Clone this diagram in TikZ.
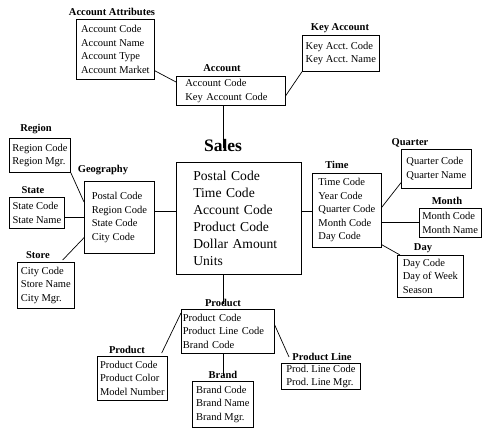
\documentclass[tikz,border=0pt]{standalone}
\usepackage{fontspec}
\setmainfont{Liberation Serif}
\begin{document}
\frenchspacing
\begin{tikzpicture}[x=1pt,y=-1pt,
  box/.style={draw,line width=0.7pt,align=left,anchor=north west,inner xsep=3pt,inner ysep=1pt,
    font=\fontsize{10.5}{13.5}\selectfont\frenchspacing},
  ttl/.style={font=\fontsize{10.5}{12}\selectfont\bfseries,inner sep=1pt,anchor=center},
  con/.style={line width=0.7pt}]
\useasboundingbox[fill=white] (0,0) rectangle (491,435);
\node[box,minimum width=78pt,minimum height=60pt] (attr) at (76,19) {Account Code\\Account Name\\Account Type\\Account Market};
\node[ttl] (attrT) at (112,12) {Account Attributes};
\node[box,inner xsep=9pt,text width=91pt,minimum width=109pt,minimum height=29pt] (acct) at (176,76) {Account Code\\Key Account Code};
\node[ttl] (acctT) at (222,68) {Account};
\node[box,minimum width=77pt,minimum height=36pt] (key) at (302,35) {Key Acct. Code\\Key Acct. Name};
\node[ttl] (keyT) at (340,28) {Key Account};
\node[box,inner xsep=17pt,text width=91pt,minimum width=125pt,minimum height=112pt,font=\fontsize{13.6}{17}\selectfont] (sales) at (176,162) {Postal Code\\Time Code\\Account Code\\Product Code\\Dollar Amount\\Units};
\node[ttl,font=\fontsize{17.5}{20}\selectfont\bfseries] (salesT) at (223,146) {Sales};
\node[box,minimum width=60pt,minimum height=34pt] (region) at (9,138) {Region Code\\Region Mgr.};
\node[ttl] (regionT) at (36,129) {Region};
\node[box,minimum width=55pt,minimum height=31pt] (state) at (9,197) {State Code\\State Name};
\node[ttl] (stateT) at (33,190) {State};
\node[box,minimum width=57pt,minimum height=46pt] (store) at (17,262) {City Code\\Store Name\\City Mgr.};
\node[ttl] (storeT) at (38,255) {Store};
\node[box,minimum width=70pt,minimum height=72pt] (geo) at (84,181) {Postal Code\\Region Code\\State Code\\City Code};
\node[ttl] (geoT) at (103,170) {Geography};
\node[box,minimum width=69pt,minimum height=74pt] (time) at (312,173) {Time Code\\Year Code\\Quarter Code\\Month Code\\Day Code};
\node[ttl] (timeT) at (337,165) {Time};
\node[box,minimum width=70pt,minimum height=39pt] (quarter) at (401,149) {Quarter Code\\Quarter Name};
\node[ttl] (quarterT) at (410,143) {Quarter};
\node[box,minimum width=58pt,minimum height=29pt] (month) at (419,208) {Month Code\\Month Name};
\node[ttl] (monthT) at (447,201) {Month};
\node[box,minimum width=66pt,minimum height=42pt] (day) at (397,255) {Day Code\\Day of Week\\Season};
\node[ttl] (dayT) at (423,248) {Day};
\node[box,inner xsep=1.5pt,text width=90pt,minimum width=93pt,minimum height=44pt] (prod) at (181,309) {Product Code\\Product Line Code\\Brand Code};
\node[ttl] (prodT) at (223,303) {Product};
\node[box,inner xsep=1.5pt,minimum width=70pt,minimum height=44pt] (prodL) at (97,356) {Product Code\\Product Color\\Model Number};
\node[ttl] (prodLT) at (127,350) {Product};
\node[box,minimum width=61pt,minimum height=46pt] (brand) at (192,381) {Brand Code\\Brand Name\\Brand Mgr.};
\node[ttl] (brandT) at (223,375) {Brand};
\node[box,minimum width=79pt,minimum height=26pt] (pline) at (281,363) {Prod. Line Code\\Prod. Line Mgr.};
\node[ttl] (plineT) at (322,357) {Product Line};
% connectors
\draw[con] ([yshift=9pt]attr.south east) -- ([yshift=-6pt]acct.north west);
\draw[con] (key.south west) -- ([yshift=10pt]acct.south east);
\draw[con] (acct.south -| salesT) -- ([yshift=-9pt]salesT.north);
\draw[con] ([yshift=7pt]sales.west) -- ([yshift=7pt]sales.west -| geo.east);
\draw[con] ([yshift=7pt]sales.east) -- ([yshift=7pt]sales.east -| time.west);
\draw[con] (sales.south -| prodT) -- ([yshift=-6pt]prodT.north);
\draw[con] (region.south east) -- ([yshift=-21pt]geo.north west);
\draw[con] ([yshift=-5pt]state.east) -- ([yshift=-5pt]state.east -| geo.west);
\draw[con] ([xshift=-12pt,yshift=2pt]store.north east) -- ([yshift=16pt]geo.south west);
\draw[con] ([yshift=3pt]time.east) -- ([yshift=6pt]quarter.south west);
\draw[con] (month.west -| time.east) -- (month.west);
\draw[con] ([yshift=3pt]time.south east) -- ([xshift=3pt]day.north west);
\draw[con] ([yshift=-4pt]prod.north west) -- ([xshift=-6pt,yshift=3pt]prodL.north east);
\draw[con] (prod.south -| brandT) -- ([yshift=-6pt]brandT.north);
\draw[con] ([yshift=-16pt]prod.north east) -- ([xshift=8pt,yshift=6pt]pline.north west);
\end{tikzpicture}
\end{document}
